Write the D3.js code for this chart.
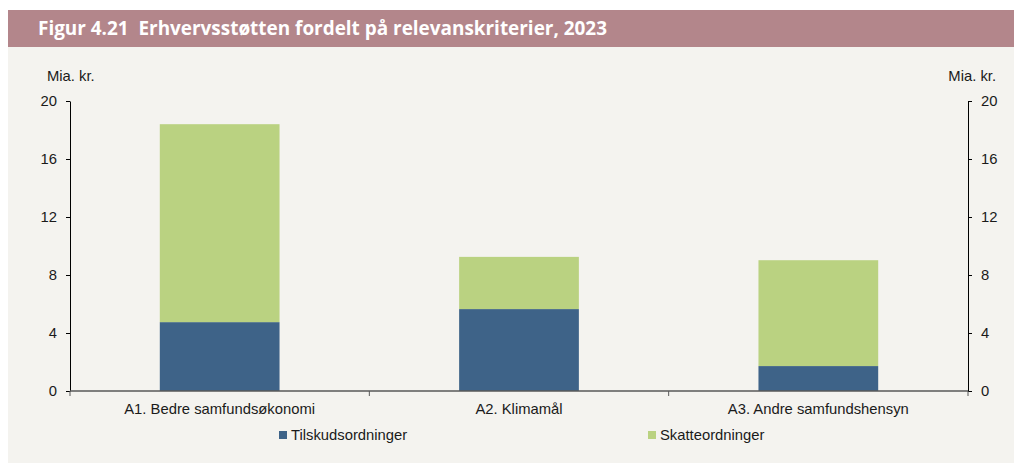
<!DOCTYPE html>
<html>
<head>
<meta charset="utf-8">
<script src="https://cdn.jsdelivr.net/npm/d3@7"></script>
<style>
  body { margin: 0; background: #fff; }
  svg { display: block; }
</style>
</head>
<body>
<svg id="chart" width="1014" height="463"></svg>
<script>
// Erhvervsstøtten fordelt på relevanskriterier, 2023 (mia. kr.)
const CATEGORIES = ["A1. Bedre samfundsøkonomi", "A2. Klimamål", "A3. Andre samfundshensyn"];
const TILSKUD    = [4.75, 5.65, 1.72];
const SKAT       = [13.65, 3.6, 7.3];
const SERIES     = ["Tilskudsordninger", "Skatteordninger"];
const Y_TICKS    = [0, 4, 8, 12, 16, 20];

const COLORS = { Tilskudsordninger: "#3E6388", Skatteordninger: "#BAD281" };
const FONT = "Liberation Sans, Arial, sans-serif";
const FS = "14.8px";

const W = 1014, H = 463;
const margin = { left: 70, right: 46, top: 101, bottom: 72 };
const iW = W - margin.left - margin.right;
const iH = H - margin.top - margin.bottom;

const svg = d3.select("#chart");

// ── Frame ─────────────────────────────────────────────────────
svg.append("rect").attr("x", 8).attr("y", 47).attr("width", W - 8).attr("height", H - 47)
  .attr("fill", "#F4F3EF");
svg.append("rect").attr("x", 8).attr("y", 10).attr("width", W - 8).attr("height", 37)
  .attr("fill", "#B3868B");
svg.append("text")
  .attr("x", 38).attr("y", 35)
  .style("white-space", "pre")
  .attr("fill", "#fff").attr("font-size", "19px").attr("font-weight", 700)
  .attr("font-family", "Open Sans, sans-serif")
  .attr("textLength", 569).attr("lengthAdjust", "spacingAndGlyphs")
  .text("Figur 4.21  Erhvervsstøtten fordelt på relevanskriterier, 2023");

const g = svg.append("g").attr("transform", `translate(${margin.left},${margin.top})`);

// ── Scales ────────────────────────────────────────────────────
const xs = d3.scaleBand().domain(CATEGORIES).range([0, iW]).paddingInner(0.6).paddingOuter(0.3);
const ys = d3.scaleLinear().domain([0, 20]).range([iH, 0]);

// ── Stacked bars ──────────────────────────────────────────────
const rows = CATEGORIES.map((c, i) => ({ cat: c, Tilskudsordninger: TILSKUD[i], Skatteordninger: SKAT[i] }));
const stacked = d3.stack().keys(SERIES)(rows);

stacked.forEach(layer => {
  g.selectAll(null).data(layer).join("rect")
    .attr("x", d => xs(d.data.cat))
    .attr("width", xs.bandwidth())
    .attr("y", d => ys(d[1]))
    .attr("height", d => ys(d[0]) - ys(d[1]))
    .attr("fill", COLORS[layer.key]);
});

// ── Axes ──────────────────────────────────────────────────────
const styleAxis = a => {
  a.selectAll("text").attr("fill", "#1a1a1a").attr("font-size", FS).attr("font-family", FONT);
};

g.append("g")
  .call(d3.axisLeft(ys).tickValues(Y_TICKS).tickSize(4).tickPadding(9).tickSizeOuter(0))
  .call(a => a.select(".domain").attr("stroke", "#000"))
  .call(a => a.selectAll(".tick line").attr("stroke", "#000"))
  .call(styleAxis);

g.append("g").attr("transform", `translate(${iW},0)`)
  .call(d3.axisRight(ys).tickValues(Y_TICKS).tickSize(4).tickPadding(9).tickSizeOuter(0))
  .call(a => a.select(".domain").attr("stroke", "#000"))
  .call(a => a.selectAll(".tick line").attr("stroke", "#000"))
  .call(styleAxis);

// x axis: baseline with ticks at band boundaries
const xAxis = g.append("g").attr("transform", `translate(0,${iH})`);
xAxis.append("line").attr("x1", 0).attr("x2", iW).attr("stroke", "#595959").attr("stroke-width", 1.5);
d3.range(CATEGORIES.length + 1).forEach(i => {
  xAxis.append("line")
    .attr("x1", i * iW / CATEGORIES.length).attr("x2", i * iW / CATEGORIES.length)
    .attr("y1", 0).attr("y2", 5).attr("stroke", "#595959");
});
xAxis.selectAll(".xl").data(CATEGORIES).join("text")
  .attr("class", "xl")
  .attr("x", d => xs(d) + xs.bandwidth() / 2).attr("y", 23)
  .attr("text-anchor", "middle")
  .attr("fill", "#1a1a1a").attr("font-size", FS).attr("font-family", FONT)
  .text(d => d);

// unit labels
svg.append("text").attr("x", 47).attr("y", 81)
  .attr("font-size", FS).attr("font-family", FONT).attr("fill", "#1a1a1a")
  .text("Mia. kr.");
svg.append("text").attr("x", 996).attr("y", 81).attr("text-anchor", "end")
  .attr("font-size", FS).attr("font-family", FONT).attr("fill", "#1a1a1a")
  .text("Mia. kr.");

// ── Legend ────────────────────────────────────────────────────
const LEGEND_X = [279, 648];
SERIES.forEach((s, i) => {
  const lg = svg.append("g").attr("transform", `translate(${LEGEND_X[i]},431)`);
  lg.append("rect").attr("width", 8).attr("height", 8).attr("fill", COLORS[s]);
  lg.append("text").attr("x", 12).attr("y", 9)
    .attr("font-size", FS).attr("font-family", FONT).attr("fill", "#1a1a1a")
    .text(s);
});
</script>
</body>
</html>
